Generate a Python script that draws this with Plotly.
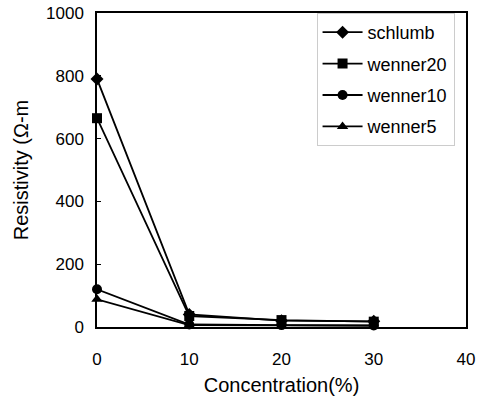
import plotly.graph_objects as go

concentration = [0, 10, 20, 30]
schlumb = [790, 40, 20, 18]
wenner20 = [665, 35, 22, 17]
wenner10 = [120, 8, 6, 5]
wenner5 = [88, 6, 5, 4]

series = [
    ("schlumb", schlumb, "diamond"),
    ("wenner20", wenner20, "square"),
    ("wenner10", wenner10, "circle"),
    ("wenner5", wenner5, "triangle-up"),
]

fig = go.Figure()
for name, vals, sym in series:
    fig.add_trace(go.Scatter(
        x=concentration, y=vals, name=name, mode="lines+markers",
        legendgroup=name,
        line=dict(color="black", width=1.8),
        marker=dict(symbol=sym, size=10, color="black"),
        cliponaxis=False,
    ))

font = "Liberation Sans, Arial, sans-serif"
fig.update_layout(
    width=481, height=398,
    margin=dict(l=97, r=15, t=13, b=71),
    plot_bgcolor="white", paper_bgcolor="white",
    font=dict(family=font, size=17, color="black"),
    showlegend=True,
    legend=dict(
        x=0.595, y=1.0, xanchor="left", yanchor="top",
        bgcolor="white", bordercolor="#cccccc", borderwidth=1,
        font=dict(size=18), itemwidth=40, tracegroupgap=5,
    ),
    xaxis=dict(
        range=[0, 40], tickvals=[0, 10, 20, 30, 40], ticks="",
        showgrid=False, zeroline=False, showline=True, linecolor="black",
        linewidth=1.5, mirror=True, ticklabelstandoff=16, automargin=False,
        title=dict(text="Concentration(%)", font=dict(size=20), standoff=10),
    ),
    yaxis=dict(
        range=[0, 1000], tickvals=[0, 200, 400, 600, 800, 1000],
        ticks="inside", ticklen=4, tickcolor="black",
        showgrid=False, zeroline=False, showline=True, linecolor="black",
        linewidth=1.5, mirror=True, ticklabelstandoff=8, automargin=False,
        title=dict(text="Resistivity (Ω-m", font=dict(size=20), standoff=12),
    ),
)

fig.write_html("out.html")
